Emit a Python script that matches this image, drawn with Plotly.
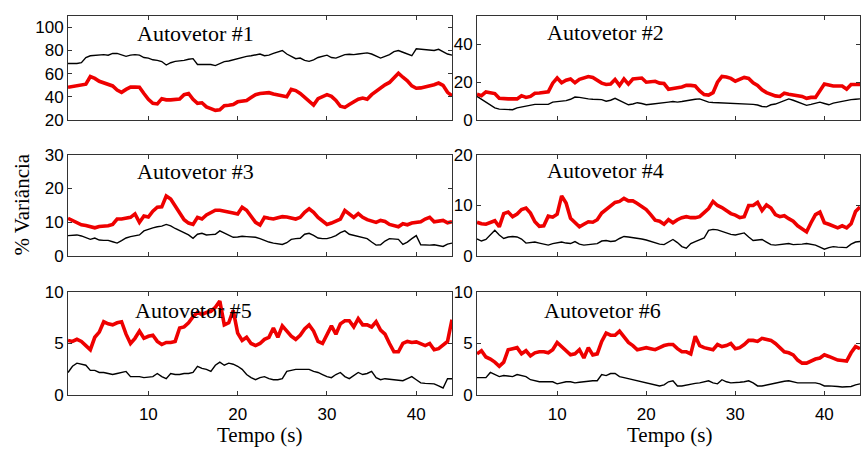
import numpy as np
import plotly.graph_objects as go

# time axis (s), sampled every 0.5 s
tempo = np.arange(1, 44.01, 0.5)

p1_red = [48.4, 49, 49.8, 50.2, 51, 57.6, 56, 53.5, 52, 50.4,
          49.5, 46, 44, 46.5, 48.5, 48.5, 48.4, 43, 38, 34.5,
          34, 38.5, 37.5, 37.5, 38, 38.2, 42, 43, 38, 34.5,
          35, 31.5, 30, 28.5, 29, 32.5, 32.8, 33.5, 35.8, 36.5,
          37, 39.5, 42, 43, 43.2, 43.7, 42.5, 41.5, 41, 40.2,
          46.5, 45.5, 43, 39.5, 36, 33, 38.5, 40, 42, 40.5,
          37, 32, 31, 33.5, 35.5, 38, 39, 38, 42, 45,
          48, 50.5, 52.5, 57, 60.5, 57, 54, 49.5, 47.5, 47.8,
          48.5, 49.5, 50.5, 52, 50, 44, 41]
p1_black = [68.8, 68.8, 68.8, 69.5, 74, 75.5, 76, 76, 76.5, 76,
            77.5, 77.5, 76, 75, 76, 76.5, 76, 74, 73.5, 72,
            71.5, 70.5, 67.5, 69.5, 70.7, 71, 71.5, 72.5, 73, 68,
            68, 67.5, 68, 67, 69, 70.5, 71, 72, 73.5, 74.5,
            75, 75.5, 76.5, 77, 75.5, 76, 77.5, 79, 80, 77,
            75, 73, 73.5, 71.5, 70.7, 72, 74, 75, 76, 74,
            73.5, 75, 76.5, 76.8, 76.5, 77, 77.5, 78, 77, 75.5,
            73.5, 75, 76.5, 79, 80, 78.5, 77, 75.5, 81.5, 81,
            81, 80.5, 80, 81, 79, 77, 76]
p2_red = [13.7, 12.9, 14.9, 14.5, 14, 11.5, 11.2, 11.2, 11.2, 11.2,
          12.9, 12, 12.5, 14.2, 14.3, 14.5, 14.9, 19.5, 22.2, 19.7,
          21, 21.7, 19.7, 21.5, 22.2, 23, 22.5, 21, 19.5, 18.8,
          19, 21.4, 18.3, 21.7, 19, 21.7, 22, 22.2, 20, 20.2,
          20.5, 19.5, 19.3, 16.3, 16.5, 17.1, 17.5, 18.3, 18.3, 18,
          15.4, 13.5, 13.2, 14.5, 20, 23, 22.7, 22, 20.5, 21.4,
          22.5, 22, 19.7, 18.3, 16, 14.5, 13.5, 12.8, 12.5, 14.2,
          13.7, 13.2, 12.9, 12.5, 11.5, 12, 12, 15.4, 19, 18.5,
          18, 18, 18, 16.3, 18.8, 18.8, 18.8]
p2_black = [12.5, 11, 9.5, 8, 6.5, 5.8, 5.8, 5.5, 5.5, 6.5,
            7, 7.5, 7.8, 8.3, 8.3, 8.3, 8.3, 9.5, 9.8, 10,
            10.3, 11, 12.2, 12, 11.5, 11.2, 11, 10.8, 10.8, 10,
            10.5, 11.5, 10.5, 9.5, 8.1, 8.5, 9.2, 8.8, 8.1, 8.4,
            8.6, 9, 9.2, 9.5, 9.8, 9.5, 9.8, 10.3, 10.5, 11,
            11.2, 10.2, 9.5, 9.3, 9.2, 9.2, 9.2, 9, 9, 8.6,
            8.6, 8.5, 8.3, 8, 7.2, 7, 8.1, 8.5, 9.5, 10.5,
            11.2, 10.5, 9.5, 8.5, 7.8, 8.3, 9, 9.5, 8.8, 8.1,
            9, 9.5, 10, 10.3, 10.8, 11, 11.2]
p3_red = [11.2, 10.5, 9.8, 9.3, 9.1, 8.8, 8.4, 8.8, 8.9, 9,
          9.4, 11, 11, 11.2, 11.5, 12.5, 10, 11.9, 11.6, 13.3,
          14.5, 14.6, 17.8, 16.9, 15, 13, 10.8, 9.8, 9.4, 11.5,
          11, 12.2, 13, 13.6, 13.6, 13.4, 13, 12.8, 12.5, 14.5,
          13.6, 11.8, 10, 9.2, 11.5, 11.2, 11, 11.4, 11.7, 11.6,
          11.3, 11, 11.5, 13, 14, 13, 11.5, 10.3, 9.4, 9.8,
          10.3, 11, 13.5, 12.5, 11.5, 12.6, 11.5, 10.8, 10.3, 10,
          10.6, 10.3, 9.4, 9, 8.7, 9.6, 9.3, 9.8, 10, 10.2,
          11, 11.5, 10.2, 10.5, 10.6, 9.9, 10.2]
p3_black = [6.1, 6.2, 6.3, 6, 5.5, 5, 5.4, 4.8, 4.7, 4.7,
            4.3, 3.9, 4.6, 5.4, 5.8, 6, 6.3, 7.5, 8, 8.4,
            8.7, 8.9, 9.4, 9, 8.2, 7.6, 7, 6.3, 5.3, 6.5,
            6.8, 6.3, 6.4, 6.5, 7.5, 6.8, 6.1, 5.6, 5.7, 5.9,
            5.8, 5.7, 5.6, 5.2, 4.6, 4.2, 3.9, 3.6, 3.5, 4,
            5, 5.2, 5.3, 6.5, 6.8, 6.2, 5.4, 5.2, 5.2, 5.6,
            6.1, 7, 7.5, 6.5, 6.2, 5.8, 5.6, 5.2, 4.2, 3.3,
            3.4, 4.5, 5.2, 5.1, 5, 3.5, 4.2, 5.2, 6.1, 3.4,
            3.3, 3.3, 3.4, 3.2, 2.9, 3.6, 3.9]
p4_red = [6.7, 6.4, 6.3, 6.6, 7, 5.8, 8.4, 8.7, 7.8, 8.3,
          9.2, 9.5, 8.5, 6.8, 5.9, 6, 7.9, 7.7, 8.3, 11.9,
          10.5, 7.5, 6.6, 5.8, 6.3, 6.8, 6.7, 7.2, 8.5, 9.2,
          9.8, 10.6, 10.8, 11.4, 10.9, 10.9, 10.4, 9.8, 9.2, 8.2,
          7.1, 6.9, 6.3, 7.2, 6.6, 7.2, 7.6, 7.8, 7.6, 7.6,
          7.8, 8.6, 9.4, 10.8, 10, 9.6, 9, 8.4, 8.1, 7.6,
          7.8, 10, 10, 10.6, 9, 10.1, 9.5, 8.2, 7.8, 8,
          7.4, 6.9, 6, 5.3, 4.8, 6.6, 8.2, 8.7, 6.6, 6.3,
          6, 5.6, 6, 5.6, 6.4, 8.8, 9.7]
p4_black = [3.4, 3, 3.3, 4.3, 5.1, 4.2, 3.5, 3.8, 3.9, 3.8,
            3.4, 2.6, 2.7, 2.8, 2.6, 2.4, 2.2, 2.5, 2.7, 2.8,
            2.6, 2.5, 2.9, 2.4, 2.2, 2.3, 2.3, 2.5, 3, 3.1,
            2.9, 3, 3.5, 3.9, 3.8, 3.7, 3.5, 3.4, 3.2, 2.9,
            2.7, 2.4, 2.3, 2.8, 3.3, 2.7, 1.9, 1.6, 2.5, 2.9,
            3.3, 3.6, 5.1, 5.3, 5.2, 4.9, 4.6, 4.3, 4.2, 4.4,
            4.6, 3.8, 3.1, 3.2, 3.3, 2.8, 2.3, 2.2, 2.3, 2.4,
            2.5, 2.3, 2.3, 2.4, 2.5, 2.3, 2.2, 1.8, 1.4, 1.7,
            1.9, 1.8, 1.7, 1.7, 2.4, 2.8, 2.9]
p5_red = [5.3, 5.2, 5.4, 5.2, 4.8, 4.4, 5.6, 6.1, 7.1, 6.9,
          6.8, 7, 7.1, 5.9, 5, 5.5, 6.2, 5.5, 5.7, 5.8,
          5.2, 4.9, 5.1, 5.1, 5.2, 6.5, 6.6, 7, 7.6, 8,
          7.8, 8, 8.1, 8.5, 9.1, 6.8, 7, 8.2, 6, 5.3,
          5.6, 5, 4.8, 5, 5.4, 5.6, 6.5, 5.6, 6.7, 6.2,
          5.7, 5.4, 5.8, 6.4, 6.8, 6.2, 5.2, 5, 5.9, 6.7,
          5.9, 6.9, 7.2, 7.2, 6.6, 7.4, 6.8, 6.8, 6.6, 7.1,
          6.3, 5.9, 5, 4.2, 4.2, 5, 5.2, 5.1, 5.15, 5,
          4.8, 5, 4.4, 4.5, 4.8, 5.2, 7.3]
p5_black = [2.2, 2.8, 3.1, 3, 2.9, 2.4, 2.4, 2.2, 2.2, 2.1,
            2, 2.1, 2.2, 2.3, 1.8, 1.8, 1.8, 1.7, 1.75, 1.8,
            2.1, 1.8, 1.6, 2.1, 2, 2, 2.1, 2.1, 2.2, 2.8,
            2.6, 2.5, 2.3, 2.9, 3.2, 2.9, 3.1, 3, 2.8, 2.5,
            2, 1.7, 1.5, 1.7, 1.8, 1.6, 1.5, 1.5, 1.6, 2.3,
            2.4, 2.5, 2.5, 2.5, 2.5, 2.3, 2.2, 2, 1.8, 1.7,
            2, 2.2, 1.8, 1.6, 1.9, 2.2, 2, 2.1, 2.3, 1.7,
            1.5, 1.6, 1.55, 1.5, 1.5, 1.4, 1.6, 1.8, 1.5, 1.2,
            1.15, 1.1, 1.1, 0.9, 0.7, 1.6, 1.6]
p6_red = [4, 4.3, 3.7, 3.5, 3.2, 2.8, 3.2, 4.4, 4.5, 4.6,
          4, 4.3, 3.8, 4.1, 4.2, 4.2, 4.1, 4.4, 5.1, 4.7,
          4.2, 3.9, 4, 4.4, 3.6, 4.6, 3.9, 4, 5.2, 6,
          5.8, 5.8, 6.2, 5.7, 5.1, 4.8, 4.4, 4.5, 4.6, 4.5,
          4.4, 4.6, 4.8, 4.9, 4.9, 4.5, 4.2, 4.2, 4, 5.7,
          4.8, 4.6, 4.5, 4.4, 4.9, 4.7, 4.8, 5, 4.5, 4.6,
          4.9, 5.3, 5.3, 5.2, 5.5, 5.4, 5.3, 5, 4.6, 4.2,
          4.1, 3.9, 3.4, 3.1, 3.1, 3.3, 3.5, 3.6, 3.9, 3.75,
          3.6, 3.4, 3.35, 3.3, 4.1, 4.7, 4.5]
p6_black = [1.7, 1.7, 1.7, 2.2, 2, 1.8, 1.9, 1.85, 1.8, 2,
            1.9, 1.8, 1.5, 1.4, 1.3, 1.3, 1.3, 1.3, 1.1, 1.2,
            1.3, 1.3, 1.2, 1.25, 1.3, 1.4, 1.4, 1.4, 2, 1.9,
            2.1, 2.1, 1.8, 1.7, 1.6, 1.5, 1.4, 1.3, 1.2, 1.1,
            1, 0.9, 1, 1.3, 1.4, 0.9, 0.9, 1, 1.1, 1.15,
            1.2, 1.3, 1.4, 1.2, 1.1, 1.5, 1.3, 1.2, 1.2, 1.25,
            1.3, 1.4, 1.2, 0.9, 0.9, 1, 1.1, 1.2, 1.3, 1.35,
            1.4, 1.3, 1.2, 1.2, 1.2, 1.2, 1.2, 1.1, 0.9, 0.9,
            0.9, 0.85, 0.8, 0.8, 0.85, 1, 1.1]

titles = ["Autovetor #1", "Autovetor #2", "Autovetor #3",
          "Autovetor #4", "Autovetor #5", "Autovetor #6"]
y_ranges = [[20, 110], [0, 55], [0, 30], [0, 20], [0, 10], [0, 10]]
y_ticks = [[20, 40, 60, 80, 100], [0, 20, 40], [0, 10, 20, 30],
           [0, 10, 20], [0, 5, 10], [0, 5, 10]]
x_ticks = [10, 20, 30, 40]
reds = [p1_red, p2_red, p3_red, p4_red, p5_red, p6_red]
blacks = [p1_black, p2_black, p3_black, p4_black, p5_black, p6_black]

W, H = 861, 457
col_px = [(68, 452), (477, 860)]
row_px = [(7, 116), (152, 258), (295, 403)]
title_px = [(135, 26), (545, 25), (135, 170), (545, 169), (133, 315), (542, 315)]

SANS = "Arial, Liberation Sans, sans-serif"
SERIF = "Times New Roman, Liberation Serif, serif"

fig = go.Figure()
layout = {}
annotations = []
for i in range(6):
    r, c = divmod(i, 2)
    n = i + 1
    xa = "x" if n == 1 else f"x{n}"
    ya = "y" if n == 1 else f"y{n}"
    fig.add_trace(go.Scatter(x=tempo, y=blacks[i], mode="lines", xaxis=xa, yaxis=ya,
                             line=dict(color="black", width=1.4), showlegend=False))
    fig.add_trace(go.Scatter(x=tempo, y=reds[i], mode="lines", xaxis=xa, yaxis=ya,
                             line=dict(color="#ee0000", width=3.6), showlegend=False))
    x0, x1 = col_px[c]
    y0, y1 = row_px[r]
    common = dict(showline=True, linecolor="#333", linewidth=1, mirror="ticks",
                  ticks="inside", ticklen=4, tickcolor="#333", showgrid=False,
                  zeroline=False, tickfont=dict(family=SANS, size=17, color="black"))
    layout["xaxis" if n == 1 else f"xaxis{n}"] = dict(
        domain=[x0 / W, x1 / W], range=[1, 44], anchor=ya, tickvals=x_ticks,
        showticklabels=(r == 2), ticklabelstandoff=3, **common)
    layout["yaxis" if n == 1 else f"yaxis{n}"] = dict(
        domain=[1 - y1 / H, 1 - y0 / H], range=y_ranges[i], anchor=xa,
        tickvals=y_ticks[i], **common)
    tx, ty = title_px[i]
    annotations.append(dict(text=titles[i], x=tx / W, y=1 - ty / H, xref="paper", yref="paper",
                            xanchor="left", yanchor="middle", showarrow=False,
                            font=dict(family=SERIF, size=22, color="black")))

for cx in (259, 669):
    annotations.append(dict(text="Tempo (s)", x=cx / W, y=1 - 445 / H, xref="paper", yref="paper",
                            xanchor="center", yanchor="middle", showarrow=False,
                            font=dict(family=SERIF, size=21, color="black")))
annotations.append(dict(text="% Variância", x=22 / W, y=1 - 204 / H, xref="paper", yref="paper",
                        xanchor="center", yanchor="middle", showarrow=False, textangle=-90,
                        font=dict(family=SERIF, size=21, color="black")))

fig.update_layout(width=W, height=H, margin=dict(l=0, r=0, t=0, b=0),
                  paper_bgcolor="white", plot_bgcolor="white",
                  annotations=annotations, **layout)
fig.write_html("out.html")
